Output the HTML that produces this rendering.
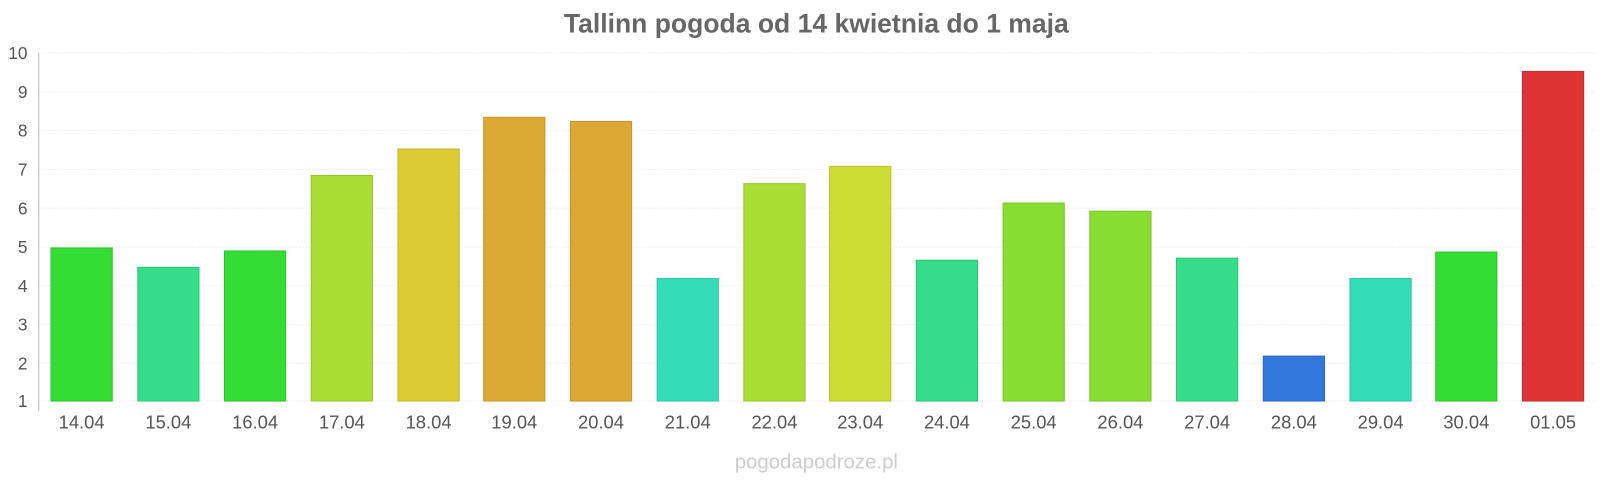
<!DOCTYPE html>
<html><head><meta charset="utf-8"><style>
body{margin:0;background:#fff;width:1600px;height:480px;overflow:hidden;font-family:"Liberation Sans",sans-serif}
svg{display:block}
</style></head><body>
<svg width="1600" height="480" viewBox="0 0 1568 470.4" preserveAspectRatio="none" xmlns="http://www.w3.org/2000/svg" font-family="Liberation Sans, sans-serif">
<text x="800" y="32" text-anchor="middle" font-size="26" font-weight="bold" fill="#666">Tallinn pogoda od 14 kwietnia do 1 maja</text>
<g stroke="#eee" stroke-width="1" stroke-dasharray="2,1">
<line x1="38" x2="1565" y1="52" y2="52"/><line x1="38" x2="1565" y1="90" y2="90"/><line x1="38" x2="1565" y1="128" y2="128"/><line x1="38" x2="1565" y1="166" y2="166"/><line x1="38" x2="1565" y1="204" y2="204"/><line x1="38" x2="1565" y1="242" y2="242"/><line x1="38" x2="1565" y1="280" y2="280"/><line x1="38" x2="1565" y1="318" y2="318"/><line x1="38" x2="1565" y1="356" y2="356"/><line x1="38" x2="1565" y1="393" y2="393"/>
</g>
<line x1="38" x2="38" y1="52" y2="403" stroke="#bbb"/>
<g font-size="17" fill="#555" text-anchor="end">
<text x="27" y="58">10</text><text x="27" y="96">9</text><text x="27" y="134">8</text><text x="27" y="172">7</text><text x="27" y="210">6</text><text x="27" y="248">5</text><text x="27" y="286">4</text><text x="27" y="324">3</text><text x="27" y="362">2</text><text x="27" y="399">1</text>
</g>
<g stroke-width="1">
<rect x="50" y="243" width="60" height="150" fill="#33dd33" stroke="#2cc42c"/>
<rect x="135" y="262" width="60" height="131" fill="#36dd88" stroke="#2ec477"/>
<rect x="220" y="246" width="60" height="147" fill="#33dd33" stroke="#2cc42c"/>
<rect x="305" y="172" width="60" height="221" fill="#aadd33" stroke="#96c42c"/>
<rect x="390" y="146" width="60" height="247" fill="#dccb33" stroke="#c4b42c"/>
<rect x="474" y="115" width="60" height="278" fill="#dcaa33" stroke="#c4962c"/>
<rect x="559" y="119" width="60" height="274" fill="#dca833" stroke="#c4942c"/>
<rect x="644" y="273" width="60" height="120" fill="#33dbb7" stroke="#2cc4a3"/>
<rect x="729" y="180" width="60" height="213" fill="#aadd33" stroke="#96c42c"/>
<rect x="813" y="163" width="60" height="230" fill="#ccdd33" stroke="#b4c42c"/>
<rect x="898" y="255" width="60" height="138" fill="#36dd88" stroke="#2ec477"/>
<rect x="983" y="199" width="60" height="194" fill="#88dd33" stroke="#78c42c"/>
<rect x="1068" y="207" width="60" height="186" fill="#88dd33" stroke="#78c42c"/>
<rect x="1153" y="253" width="60" height="140" fill="#36dd88" stroke="#2ec477"/>
<rect x="1238" y="349" width="60" height="44" fill="#3377dd" stroke="#2c68c4"/>
<rect x="1323" y="273" width="60" height="120" fill="#33dbb7" stroke="#2cc4a3"/>
<rect x="1407" y="247" width="60" height="146" fill="#33dd33" stroke="#2cc42c"/>
<rect x="1492" y="70" width="60" height="323" fill="#dd3333" stroke="#c42c2c"/>
</g>
<g font-size="18" fill="#555" text-anchor="middle">
<text x="80" y="420">14.04</text><text x="165" y="420">15.04</text><text x="250" y="420">16.04</text><text x="335" y="420">17.04</text><text x="420" y="420">18.04</text><text x="504" y="420">19.04</text><text x="589" y="420">20.04</text><text x="674" y="420">21.04</text><text x="759" y="420">22.04</text><text x="843" y="420">23.04</text><text x="928" y="420">24.04</text><text x="1013" y="420">25.04</text><text x="1098" y="420">26.04</text><text x="1183" y="420">27.04</text><text x="1268" y="420">28.04</text><text x="1353" y="420">29.04</text><text x="1437" y="420">30.04</text><text x="1522" y="420">01.05</text>
</g>
<text x="800" y="459" text-anchor="middle" font-size="20" fill="#ccc">pogodapodroze.pl</text>
</svg>
</body></html>
